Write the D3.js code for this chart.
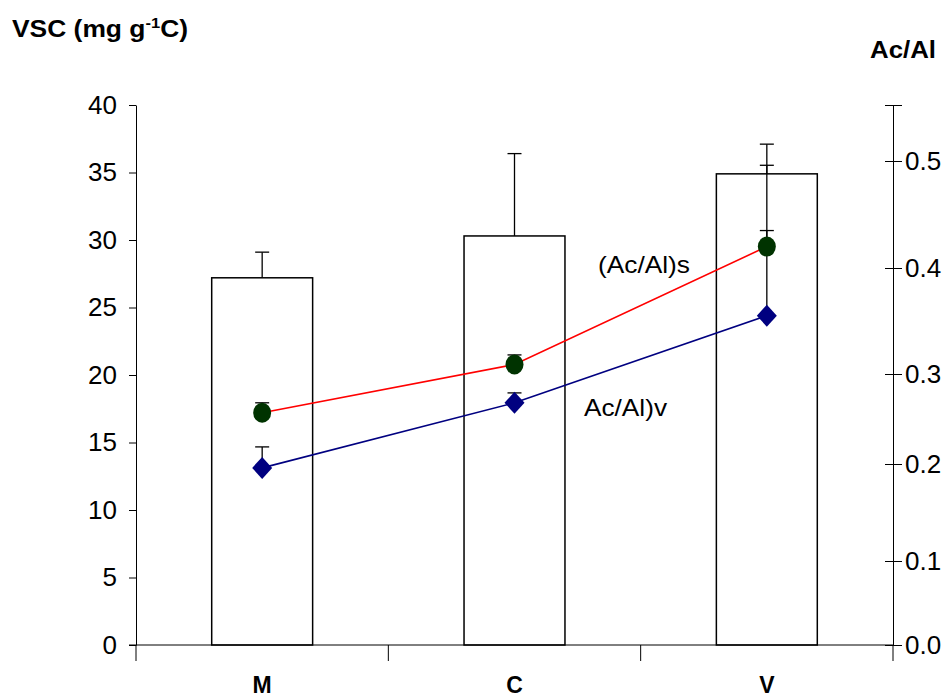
<!DOCTYPE html>
<html>
<head>
<meta charset="utf-8">
<script src="https://cdn.jsdelivr.net/npm/d3@7"></script>
<style>
  body { margin: 0; background: #fff; }
  text { font-family: "Liberation Sans", Arial, sans-serif; fill: #000; }
</style>
</head>
<body>
<svg id="chart"></svg>
<script>
// Sites
const sites = ['M', 'C', 'V'];

// VSC bars (mg g-1 C) and their upper error
const vsc = [27.2, 30.3, 34.9];
const vscErr = [1.9, 6.1, 2.2];

// Ac/Al ratios (right axis)
const acAlS = [0.257, 0.309, 0.420];
const acAlSErr = [0.011, 0.009, 0.015];
const acAlV = [0.196, 0.268, 0.355];
const acAlVErr = [0.023, 0.011, 0.141];

// Tick labels
const leftTicks = [0, 5, 10, 15, 20, 25, 30, 35, 40];
const rightTicks = [0, 0.1, 0.2, 0.3, 0.4, 0.5];

const width = 952;
const height = 697;
const margin = {top: 105, right: 59, bottom: 52, left: 136};

const svg = d3.select('#chart')
    .attr('width', width)
    .attr('height', height);

const x = d3.scaleBand()
    .domain(sites)
    .range([margin.left, width - margin.right])
    .paddingInner(0.6)
    .paddingOuter(0.3);

const y = d3.scaleLinear()
    .domain([0, 40])
    .range([height - margin.bottom, margin.top]);

// the right axis of the original is unevenly spaced, so use a piecewise scale
const y2 = d3.scaleLinear()
    .domain([0, 0.1, 0.2, 0.3, 0.4, 0.5, 0.55])
    .range([645, 561, 464, 374, 268, 161, margin.top]);

const cx = d => x(d) + x.bandwidth() / 2;

// Bars
svg.append('g')
    .selectAll('rect')
    .data(sites)
    .join('rect')
    .attr('x', d => x(d))
    .attr('y', (d, i) => y(vsc[i]))
    .attr('width', x.bandwidth())
    .attr('height', (d, i) => y(0) - y(vsc[i]))
    .attr('fill', '#fff')
    .attr('stroke', '#000')
    .attr('stroke-width', 1.5);

// Error bars (upper only)
function errorBars(vals, errs, scale) {
    const g = svg.append('g').attr('stroke', '#000').attr('stroke-width', 1.3);
    sites.forEach((s, i) => {
        const top = scale(vals[i] + errs[i]);
        g.append('line')
            .attr('x1', cx(s)).attr('x2', cx(s))
            .attr('y1', scale(vals[i])).attr('y2', top);
        g.append('line')
            .attr('x1', cx(s) - 7).attr('x2', cx(s) + 7)
            .attr('y1', top).attr('y2', top);
    });
}
errorBars(vsc, vscErr, y);
errorBars(acAlS, acAlSErr, y2);
errorBars(acAlV, acAlVErr, y2);

// Left axis
const leftAxis = svg.append('g')
    .attr('transform', `translate(${margin.left},0)`)
    .call(d3.axisLeft(y).tickValues(leftTicks).tickSize(7).tickSizeOuter(0).tickPadding(12));
leftAxis.selectAll('text').style('font-size', '26px');

// Right axis, ticks cross the line
const rightAxis = svg.append('g')
    .attr('transform', `translate(${width - margin.right},0)`)
    .call(d3.axisRight(y2).tickValues(rightTicks.concat([0.55]))
        .tickFormat(d => d > 0.5 ? '' : d3.format('.1f')(d))
        .tickSize(9).tickSizeOuter(0).tickPadding(3));
rightAxis.selectAll('.tick line').attr('x1', -8);
rightAxis.selectAll('text').style('font-size', '26px');

// Bottom axis
const xAxis = svg.append('g')
    .attr('transform', `translate(0,${y(0)})`)
    .call(d3.axisBottom(x).tickSize(0).tickSizeOuter(0).tickFormat(''));
xAxis.select('.domain').attr('d', `M${margin.left - 7},0H${width - margin.right}`);
const bounds = [margin.left, ...sites.map(s => x(s) + x.bandwidth() + x.step() * 0.3), width - margin.right];
xAxis.selectAll('.divider')
    .data(bounds.slice(0, 4))
    .join('line')
    .attr('x1', d => d).attr('x2', d => d)
    .attr('y1', 0).attr('y2', 16)
    .attr('stroke', '#000');

svg.append('g')
    .selectAll('text')
    .data(sites)
    .join('text')
    .attr('x', d => cx(d))
    .attr('y', 693)
    .attr('text-anchor', 'middle')
    .style('font-size', '23px')
    .style('font-weight', 'bold')
    .text(d => d);

// Lines
const line = d3.line().x((d, i) => cx(sites[i])).y(d => y2(d));
svg.append('path').datum(acAlS)
    .attr('d', line).attr('fill', 'none')
    .attr('stroke', '#ff0000').attr('stroke-width', 1.6);
svg.append('path').datum(acAlV)
    .attr('d', line).attr('fill', 'none')
    .attr('stroke', '#000080').attr('stroke-width', 1.6);

// Markers
svg.append('g')
    .selectAll('ellipse')
    .data(acAlS)
    .join('ellipse')
    .attr('cx', (d, i) => cx(sites[i]))
    .attr('cy', d => y2(d))
    .attr('rx', 9).attr('ry', 10)
    .attr('fill', '#003300');

svg.append('g')
    .selectAll('path')
    .data(acAlV)
    .join('path')
    .attr('transform', (d, i) => `translate(${cx(sites[i])},${y2(d)})`)
    .attr('d', 'M0,-11L10,0L0,11L-10,0Z')
    .attr('fill', '#000080');

// Titles and annotations
const title = svg.append('text')
    .attr('x', 12).attr('y', 37)
    .attr('textLength', 176).attr('lengthAdjust', 'spacingAndGlyphs')
    .style('font-size', '24px').style('font-weight', 'bold');
title.append('tspan').text('VSC (mg g');
title.append('tspan').text('-1').attr('dy', -9).style('font-size', '15px');
title.append('tspan').text('C)').attr('dy', 9);

svg.append('text')
    .attr('x', 870).attr('y', 58)
    .attr('textLength', 66).attr('lengthAdjust', 'spacingAndGlyphs')
    .style('font-size', '24px').style('font-weight', 'bold')
    .text('Ac/Al');

svg.append('text')
    .attr('x', 598).attr('y', 273)
    .attr('textLength', 92).attr('lengthAdjust', 'spacingAndGlyphs')
    .style('font-size', '24px')
    .text('(Ac/Al)s');

svg.append('text')
    .attr('x', 584).attr('y', 416)
    .attr('textLength', 83).attr('lengthAdjust', 'spacingAndGlyphs')
    .style('font-size', '24px')
    .text('Ac/Al)v');
</script>
</body>
</html>
